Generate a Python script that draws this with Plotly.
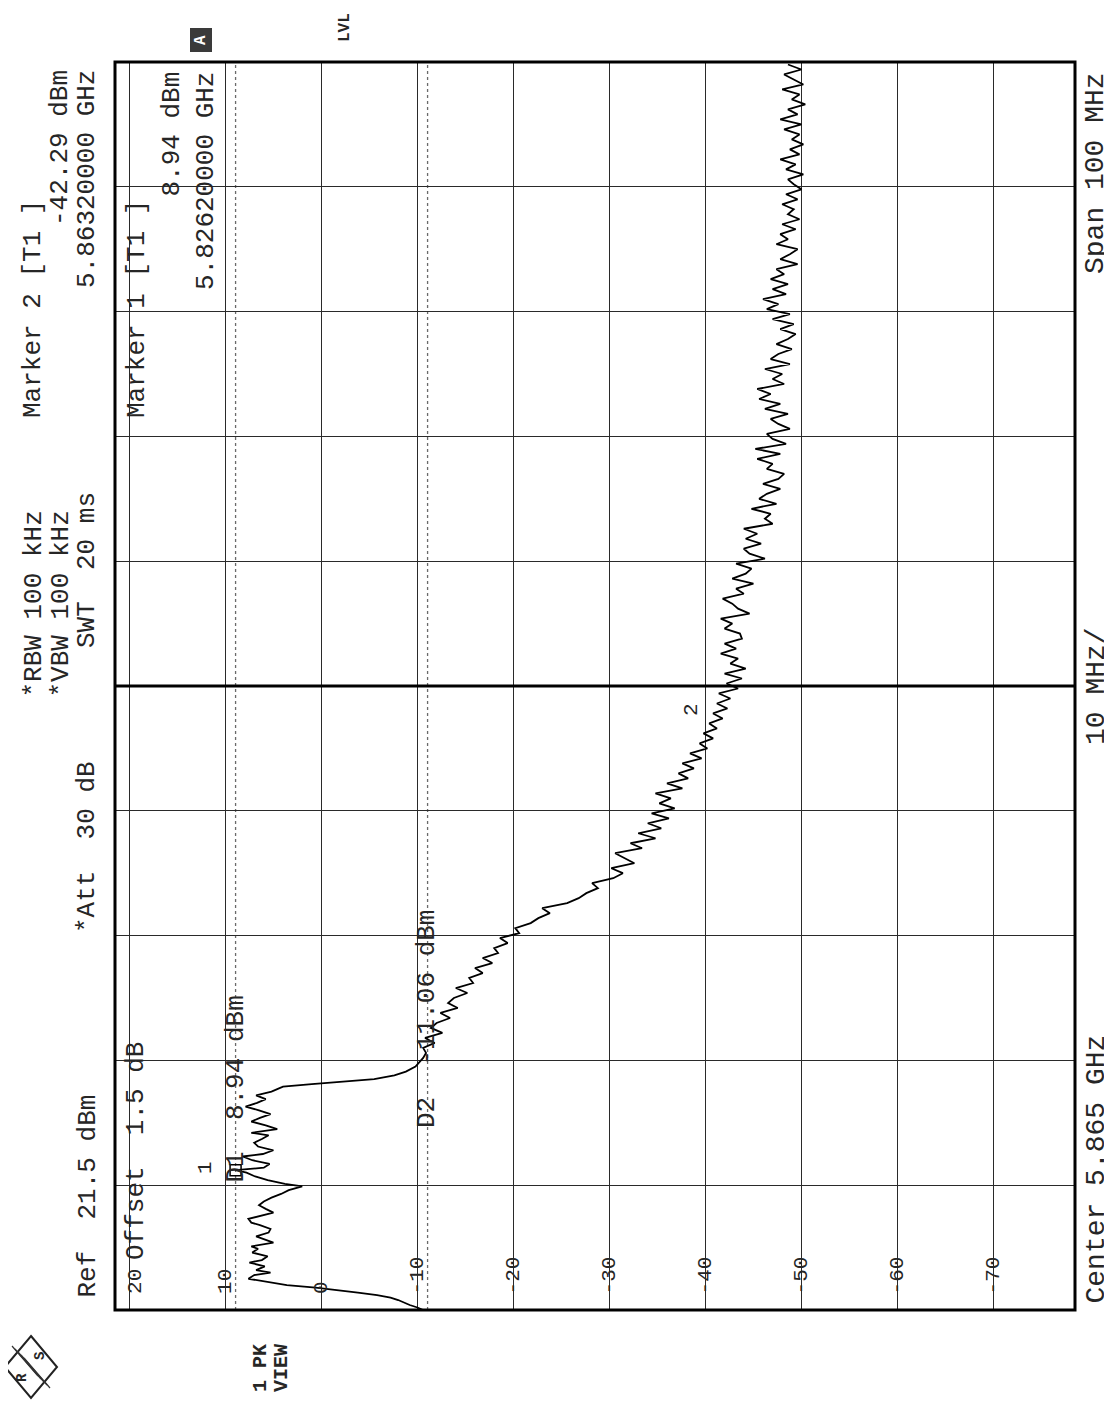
import plotly.graph_objects as go

# ---------------- data ----------------
start_mhz, stop_mhz, center_mhz = 5815.0, 5915.0, 5865.0
ref_dbm, bottom_dbm = 21.5, -78.5

level_lines_dbm = [20, 10, 0, -10, -20, -30, -40, -50, -60, -70]
level_labels = ["20", "10", "0", "-10", "-20", "-30", "-40", "-50", "-60", "-70"]
freq_lines_mhz = [5825, 5835, 5845, 5855, 5875, 5885, 5895, 5905]

d1_dbm = 8.94
d2_dbm = -11.06
marker1_mhz, marker1_dbm = 5826.2, 8.94
marker2_mhz, marker2_dbm = 5863.2, -42.29

low_edge_mhz = [5815.0, 5815.2, 5815.4, 5815.6, 5815.8, 5816.0, 5816.2, 5816.4,
                5816.6, 5816.8, 5817.0, 5817.2]
low_edge_dbm = [-10.6, -10.0, -9.2, -8.6, -8.0, -7.2, -5.8, -3.8,
                -1.5, 0.6, 3.6, 5.2]

inband_mhz = [5817.5, 5817.8, 5818.0, 5818.2, 5818.5, 5818.8, 5819.0, 5819.3, 5819.6,
              5819.9, 5820.1, 5820.4, 5820.7, 5820.9, 5821.2, 5821.5, 5821.8, 5822.0,
              5822.3, 5822.6, 5822.8, 5823.1, 5823.4, 5823.7, 5824.0, 5824.3, 5824.6,
              5824.9, 5825.1, 5825.4, 5825.7, 5826.0, 5826.2, 5826.4, 5826.7, 5827.0,
              5827.3, 5827.5, 5827.8, 5828.1, 5828.4, 5828.7, 5829.0, 5829.2, 5829.5,
              5829.8, 5830.1, 5830.4, 5830.7, 5831.0, 5831.3, 5831.6, 5831.9, 5832.2,
              5832.5, 5832.7, 5832.9]
inband_dbm = [7.6, 7.0, 5.3, 6.8, 5.9, 7.5, 6.2, 5.6, 7.2,
              6.6, 7.3, 5.0, 6.2, 6.8, 5.5, 5.3, 6.4, 7.3,
              7.6, 6.0, 5.0, 5.8, 6.5, 6.0, 5.2, 4.2, 3.4,
              2.0, 3.8, 5.6, 6.9, 7.8, 8.94, 6.0, 5.4, 7.2,
              8.2, 6.1, 5.0, 6.6, 7.0, 6.2, 5.5, 7.3, 4.6,
              5.8, 7.3, 6.4, 5.3, 6.5, 7.9, 6.7, 5.8, 6.8,
              5.2, 4.6, 4.0]

high_edge_mhz = [5833.1, 5833.3, 5833.5, 5833.8, 5834.1, 5834.5, 5834.9, 5835.2]
high_edge_dbm = [1.0, -2.5, -5.5, -7.6, -8.8, -9.8, -10.3, -10.6]

skirt_mhz = [5835.6, 5836.0, 5836.4, 5836.8, 5837.2, 5837.6, 5838.0, 5838.4, 5838.8,
             5839.2, 5839.6, 5840.0, 5840.4, 5840.8, 5841.2, 5841.6, 5842.0, 5842.4,
             5842.8, 5843.2, 5843.6, 5844.0, 5844.4, 5844.8, 5845.2, 5845.6, 5846.0,
             5846.4, 5846.8, 5847.2, 5847.6, 5848.0, 5848.4, 5848.8, 5849.2, 5849.6,
             5850.0, 5850.4, 5850.8, 5851.2, 5851.6, 5852.0, 5852.4, 5852.8, 5853.2,
             5853.6, 5854.0, 5854.4, 5854.8, 5855.2, 5855.6, 5856.0, 5856.4, 5856.8,
             5857.2, 5857.6, 5858.0, 5858.4, 5858.8, 5859.2, 5859.6, 5860.0, 5860.4,
             5860.8, 5861.2, 5861.6, 5862.0, 5862.4, 5862.8, 5863.2, 5863.6, 5864.0,
             5864.4, 5864.8, 5865.2, 5865.6, 5866.0, 5866.4, 5866.8, 5867.2, 5867.6,
             5868.0, 5868.4, 5868.8]
skirt_dbm = [-10.9, -10.6, -11.8, -10.8, -12.6, -11.4, -12.0, -13.4, -12.4,
             -14.2, -13.2, -13.8, -15.2, -14.0, -15.8, -15.4, -16.8, -16.0,
             -17.8, -16.8, -18.4, -18.0, -19.4, -18.6, -20.6, -20.2, -21.8,
             -22.6, -23.8, -23.0, -25.6, -26.8, -27.6, -28.8, -28.2, -30.4,
             -31.4, -30.2, -32.6, -31.6, -30.6, -33.4, -32.2, -34.8, -33.0,
             -35.4, -34.0, -36.2, -34.4, -36.8, -35.2, -36.4, -34.8, -37.6,
             -36.0, -38.2, -37.2, -38.8, -37.6, -39.6, -38.4, -40.2, -39.4,
             -40.8, -39.8, -41.2, -40.4, -41.8, -40.8, -42.29, -41.2, -42.6,
             -41.4, -43.4, -42.2, -43.8, -42.0, -44.2, -42.6, -43.4, -41.6,
             -43.2, -42.0, -43.8]

floor_mhz = [5869.2, 5869.6, 5870.0, 5870.4, 5870.8, 5871.2, 5871.6, 5872.0, 5872.4,
             5872.8, 5873.2, 5873.6, 5874.0, 5874.4, 5874.8, 5875.2, 5875.6, 5876.0,
             5876.4, 5876.8, 5877.2, 5877.6, 5878.0, 5878.4, 5878.8, 5879.2, 5879.6,
             5880.0, 5880.4, 5880.8, 5881.2, 5881.6, 5882.0, 5882.4, 5882.8, 5883.2,
             5883.6, 5884.0, 5884.4, 5884.8, 5885.2, 5885.6, 5886.0, 5886.4, 5886.8,
             5887.2, 5887.6, 5888.0, 5888.4, 5888.8, 5889.2, 5889.6, 5890.0, 5890.4,
             5890.8, 5891.2, 5891.6, 5892.0, 5892.4, 5892.8, 5893.2, 5893.6, 5894.0,
             5894.4, 5894.8, 5895.2, 5895.6, 5896.0, 5896.4, 5896.8, 5897.2, 5897.6,
             5898.0, 5898.4, 5898.8, 5899.2, 5899.6, 5900.0, 5900.4, 5900.8, 5901.2,
             5901.6, 5902.0, 5902.4, 5902.8, 5903.2, 5903.6, 5904.0, 5904.4, 5904.8,
             5905.2, 5905.6, 5906.0, 5906.4, 5906.8, 5907.2, 5907.6, 5908.0, 5908.4,
             5908.8, 5909.2, 5909.6, 5910.0, 5910.4, 5910.8, 5911.2, 5911.6, 5912.0,
             5912.4, 5912.8, 5913.2, 5913.6, 5914.0, 5914.4, 5914.8]
floor_dbm = [-43.6, -42.0, -42.8, -41.6, -44.6, -43.4, -42.8, -41.8, -44.0,
             -43.2, -45.0, -42.8, -44.2, -44.8, -43.2, -46.2, -44.6, -44.0,
             -45.8, -44.2, -45.4, -44.0, -47.0, -46.2, -46.8, -44.8, -47.4,
             -45.6, -46.4, -47.8, -46.0, -47.6, -48.2, -46.4, -47.0, -45.4,
             -47.8, -45.2, -48.4, -47.0, -46.4, -48.8, -47.6, -46.8, -48.6,
             -46.2, -47.8, -45.6, -46.8, -45.4, -48.2, -47.0, -48.0, -46.2,
             -48.8, -46.8, -47.6, -49.0, -47.4, -48.6, -49.4, -47.8, -49.2,
             -47.0, -48.8, -46.4, -47.6, -46.0, -48.4, -47.0, -48.6, -46.8,
             -48.2, -47.4, -49.6, -47.8, -48.8, -49.6, -47.4, -48.6, -47.8,
             -49.4, -48.0, -49.8, -48.6, -49.2, -48.0, -49.6, -48.4, -50.0,
             -49.2, -48.6, -50.2, -48.4, -49.4, -47.8, -49.8, -48.8, -50.2,
             -49.0, -49.8, -48.2, -50.0, -47.8, -49.6, -48.6, -50.4, -49.0,
             -49.8, -48.0, -50.2, -49.2, -48.2, -50.0, -48.6]

trace_mhz = low_edge_mhz + inband_mhz + high_edge_mhz + skirt_mhz + floor_mhz
trace_dbm = low_edge_dbm + inband_dbm + high_edge_dbm + skirt_dbm + floor_dbm

# ---------------- layout helpers (pixel placement of the rotated page) ----------------
PAGE_W, PAGE_H = 1112, 1405
BODY = 8                      # default page margin of the browser
W, H = PAGE_W - BODY, PAGE_H - BODY
L, R, T, B = 115, 1075, 62, 1310   # plot area in page pixels
FONT = "Liberation Mono"
INK = "#262626"
NB = "\u00a0"


def px(x):
    return (x - L) / (R - L)


def py(y):
    return (B - y) / (B - T)


fig = go.Figure()

fig.add_trace(go.Scatter(x=trace_dbm, y=trace_mhz, mode="lines",
                         line=dict(color="black", width=1.8), hoverinfo="skip",
                         showlegend=False))

# marker 1 symbol
fig.add_trace(go.Scatter(x=[marker1_dbm], y=[marker1_mhz], mode="markers",
                         marker=dict(symbol="square-open", size=11,
                                     color="black", line=dict(width=1.5)),
                         showlegend=False, hoverinfo="skip"))

fig.update_xaxes(range=[ref_dbm, bottom_dbm], tickvals=level_lines_dbm,
                 showticklabels=False, showgrid=True, gridcolor="#2a2a2a",
                 gridwidth=1.4, zeroline=False, ticks="", showline=False,
                 fixedrange=True)
fig.update_yaxes(range=[start_mhz, stop_mhz], tickvals=freq_lines_mhz,
                 showticklabels=False, showgrid=True, gridcolor="#2a2a2a",
                 gridwidth=1.4, zeroline=False, ticks="", showline=False,
                 fixedrange=True)

shapes = []
for lvl in (d1_dbm, d2_dbm):
    shapes.append(dict(type="line", xref="x", yref="paper", x0=lvl, x1=lvl, y0=0, y1=1,
                       line=dict(color="#6a6a6a", width=1.3, dash="dot"), layer="below"))
shapes.append(dict(type="line", xref="paper", yref="y", x0=0, x1=1,
                   y0=center_mhz, y1=center_mhz, line=dict(color="black", width=3)))
shapes.append(dict(type="rect", xref="paper", yref="paper", x0=0, x1=1, y0=0, y1=1,
                   line=dict(color="black", width=3)))

# "A" badge
shapes.append(dict(type="rect", xref="paper", yref="paper",
                   x0=px(190), x1=px(212), y0=py(52), y1=py(28),
                   fillcolor="#3a3a3a", line=dict(width=0)))

# R&S logo (diamond)
cx, cy, hw, hh = 31, 1367, 26, 31
logo_path = "M {} {} L {} {} L {} {} L {} {} Z".format(
    px(cx), py(cy - hh), px(cx + hw), py(cy), px(cx), py(cy + hh), px(cx - hw), py(cy))
shapes.append(dict(type="path", xref="paper", yref="paper", path=logo_path,
                   line=dict(color="#222", width=2)))
for k in (-6, -3, 0, 3, 6):
    shapes.append(dict(type="line", xref="paper", yref="paper",
                       x0=px(cx - 13 + k), y0=py(cy - 15 + k),
                       x1=px(cx + 13 + k), y1=py(cy + 15 + k),
                       line=dict(color="#333", width=1.2)))

fig.update_layout(shapes=shapes)

ann = []


def rtext(text, x, y, anchor="middle", size=26, bold=False, color=INK):
    t = text.replace("  ", NB + NB)
    if bold:
        t = "<b>" + t + "</b>"
    ann.append(dict(text=t, x=px(x), y=py(y), xref="paper", yref="paper",
                    xanchor="center", yanchor=anchor, textangle=-90,
                    showarrow=False, font=dict(family=FONT, size=size, color=color)))


# header rows
rtext("Ref  21.5 dBm", 87, 1300, "bottom")
rtext("*Att  30 dB", 87, 935, "bottom")
rtext("SWT  20 ms", 87, 650, "bottom")
rtext("5.86320000 GHz", 87, 68, "top")
rtext("*VBW 100 kHz", 60, 700, "bottom")
rtext("-42.29 dBm", 60, 68, "top")
rtext("*RBW 100 kHz", 33, 700, "bottom")
rtext("Marker 2 [T1 ]", 33, 420, "bottom")

# inside plot texts
rtext("Offset  1.5 dB", 136, 1262, "bottom")
rtext("Marker 1 [T1 ]", 137, 420, "bottom")
rtext("8.94 dBm", 172, 70, "top")
rtext("5.82620000 GHz", 206, 70, "top")
rtext("D1  8.94 dBm", 235, 1185, "bottom")
rtext("D2  -11.06 dBm", 427, 1130, "bottom")

# grid level labels
for lvl, lab in zip(level_lines_dbm, level_labels):
    xx = L + (ref_dbm - lvl) / (ref_dbm - bottom_dbm) * (R - L)
    if lvl == 20:
        xx += 6
    rtext(lab, xx, 1296, "bottom", size=21)

# frequency axis texts
rtext("Center 5.865 GHz", 1096, 1306, "bottom", size=28)
rtext("10 MHz/", 1096, 686, "middle", size=28)
rtext("Span 100 MHz", 1096, 70, "top", size=28)

# misc
rtext("LVL", 345, 28, "middle", size=16, bold=True)
rtext("1 PK", 260, 1368, "middle", size=20, bold=True)
rtext("VIEW", 281, 1368, "middle", size=20, bold=True)
rtext("1", 205, 1168, "middle", size=21)
rtext("2", 692, 710, "middle", size=21)
rtext("A", 201, 40, "middle", size=16, bold=True, color="white")
rtext("R", 22, 1378, "middle", size=14, bold=True)
rtext("S", 40, 1356, "middle", size=14, bold=True)

fig.update_layout(annotations=ann, width=W, height=H,
                  margin=dict(l=L - BODY, r=PAGE_W - R, t=T - BODY, b=PAGE_H - B, pad=0),
                  paper_bgcolor="white", plot_bgcolor="white", showlegend=False)

fig.write_html("out.html")
